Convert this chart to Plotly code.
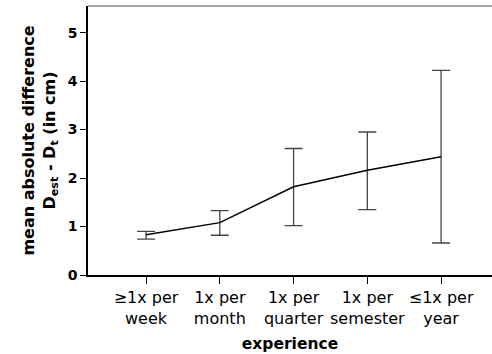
import plotly.graph_objects as go

categories = ["≥1x per<br>week", "1x per<br>month", "1x per<br>quarter", "1x per<br>semester", "≤1x per<br>year"]
mean_diff = [0.83, 1.08, 1.82, 2.16, 2.44]
upper = [0.90, 1.33, 2.61, 2.95, 4.22]
lower = [0.74, 0.82, 1.02, 1.35, 0.66]

err_plus = [u - m for u, m in zip(upper, mean_diff)]
err_minus = [m - l for m, l in zip(mean_diff, lower)]
xpos = list(range(len(categories)))

font = "DejaVu Sans"

fig = go.Figure()
fig.add_trace(go.Scatter(
    x=xpos, y=mean_diff, mode="lines",
    line=dict(color="black", width=1.5),
    error_y=dict(type="data", symmetric=False, array=err_plus, arrayminus=err_minus,
                 color="#444444", thickness=1.3, width=9),
    showlegend=False,
))

fig.update_layout(
    width=492, height=354,
    margin=dict(l=88, r=0, t=6, b=79),
    plot_bgcolor="white", paper_bgcolor="white",
    font=dict(family=font, color="black"),
    xaxis=dict(
        range=[-0.787, 4.69], tickvals=xpos, ticktext=categories,
        showline=True, linecolor="black", linewidth=1.5,
        ticks="outside", ticklen=7, tickwidth=1.3, tickcolor="black",
        showgrid=False, zeroline=False, automargin=False,
        tickfont=dict(size=16, family=font),
        title=dict(text="<b>experience</b>", font=dict(size=15.5, family=font), standoff=11),
    ),
    yaxis=dict(
        range=[0, 5.55], tickvals=[0, 1, 2, 3, 4, 5],
        ticktext=["<b>%d</b>" % v for v in [0, 1, 2, 3, 4, 5]],
        showline=True, linecolor="black", linewidth=1.5,
        ticks="outside", ticklen=6, tickwidth=1.3, tickcolor="black",
        showgrid=False, zeroline=False, automargin=False,
        tickfont=dict(size=14, family=font),
        title=dict(text="<b>mean absolute difference<br>D<sub>est</sub> - D<sub>t</sub> (in cm)</b>",
                   font=dict(size=16, family=font), standoff=8),
    ),
    shapes=[dict(type="line", xref="paper", yref="paper", x0=0, x1=1, y0=1, y1=1,
                 line=dict(color="#888888", width=1.5))],
)

fig.write_html("out.html")
